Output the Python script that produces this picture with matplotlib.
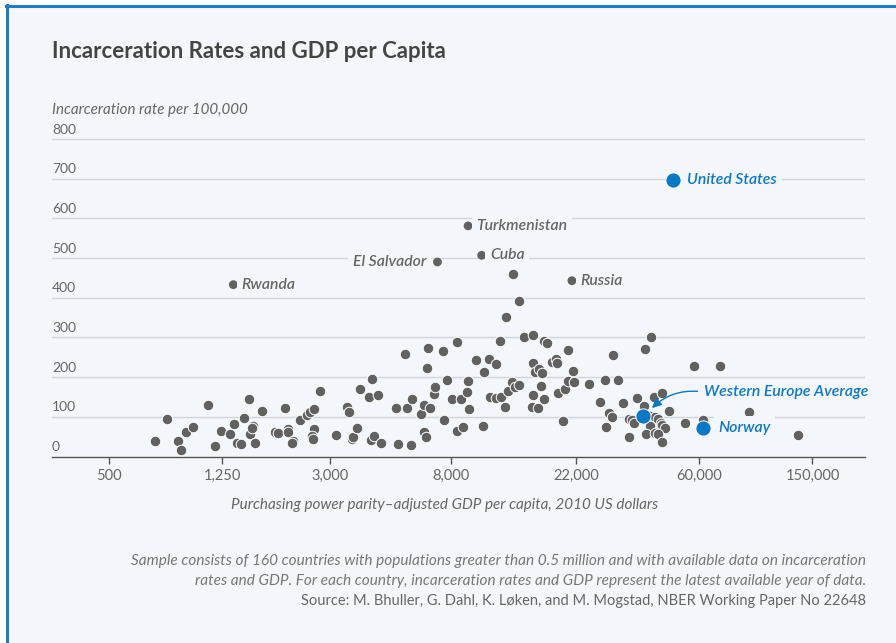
import matplotlib
matplotlib.use('Agg')
import matplotlib.pyplot as plt
from matplotlib.lines import Line2D
from matplotlib.patches import Rectangle

plt.rcParams['font.family'] = ['Lato', 'DejaVu Sans']

# GDP per capita (PPP, 2010 US$) and incarceration rate per 100,000
gdp = [725, 800, 875, 900, 930, 990, 1120, 1180, 1240, 1335, 1375, 1410, 1460, 1500,
       1550, 1570, 1610, 1590, 1640, 1730, 1920, 1970, 2080, 2130, 2130, 2220, 2200,
       2355, 2480, 2550, 2630, 2760, 2630, 2600, 2610, 3150, 3440, 3490, 3580, 3620,
       3740, 3830, 4130, 4220, 4430, 4180, 4290, 4530, 5110, 5220, 5520, 5600, 5770,
       5840, 6270, 6430, 6560, 6430, 6620, 6600, 6770, 6950, 7030, 7500, 7750, 7560,
       8060, 8390, 8390,
       13900, 12550, 11910, 14500, 15600, 16950, 17400, 20600, 9800, 10900, 11500,
       10430, 9190, 8650, 9130, 9290, 8840, 10400, 11000, 11550, 12020, 12420, 12660,
       13170, 13440, 13930, 15550, 15830, 16340, 16700, 15500, 16650, 16950, 15400,
       16200, 18100, 18700, 18960, 19050, 20200, 20700, 21500, 21650, 19900, 24450,
       27800, 29800, 31000, 26850, 28700, 29600, 28200, 32400, 36100, 38500, 40500,
       38400, 33900, 34800, 35300, 33900, 41400, 44100, 46900, 40200, 41800, 43000,
       44000, 44400, 45500, 40200, 39000, 42000, 43000, 44300, 53200, 57300, 71000,
       61600, 89500, 133500, 13250]
rate = [39, 94, 40, 16, 61, 74, 129, 27, 64, 56, 83, 35, 31, 98,
        145, 57, 77, 73, 34, 115, 62, 59, 121, 70, 62, 39, 33,
        92, 105, 113, 119, 166, 69, 52, 44, 53, 125, 113, 44, 50,
        71, 171, 150, 195, 154, 42, 52, 33, 121, 31, 259, 121, 28,
        145, 106, 62, 50, 130, 273, 222, 121, 157, 174, 266, 194, 92,
        145, 288, 65,
        391, 351, 292, 300, 306, 291, 286, 268, 242, 245, 234,
        213, 189, 145, 163, 120, 74, 77, 151, 148, 149, 124, 164,
        188, 175, 181, 236, 213, 221, 211, 155, 178, 144, 125,
        121, 239, 246, 235, 159, 170, 191, 215, 187, 89, 183,
        194, 256, 194, 138, 109, 100, 74, 135, 147, 271, 300,
        128, 94, 92, 85, 50, 151, 161, 114, 102, 100, 94,
        85, 79, 71, 78, 57, 60, 56, 36, 84, 229, 227,
        92, 112, 54, 459]

label_names = ['Rwanda', 'El Salvador', 'Turkmenistan', 'Cuba', 'Russia']
label_gdp = [1370, 7170, 9190, 10260, 21330]
label_rate = [433, 490, 581, 507, 443]

blue_names = ['United States', 'Western Europe Average', 'Norway']
blue_gdp = [48500, 38000, 61800]
blue_rate = [696, 103, 72]

x_ticks = [500, 1250, 3000, 8000, 22000, 60000, 150000]
y_ticks = [0, 100, 200, 300, 400, 500, 600, 700, 800]

bg = '#f3f7fb'
grey = '#616161'
blue = '#0a78c8'
W, H = 896, 643

fig = plt.figure(figsize=(W / 100, H / 100), dpi=100, facecolor='white')
fig.patches.append(Rectangle((6 / W, 0), 1, 1 - 5 / H, transform=fig.transFigure,
                             facecolor=bg, edgecolor='none', zorder=-10))
fig.lines.append(Line2D([7 / W, 7 / W], [0, 1 - 5 / H], transform=fig.transFigure,
                        color='#1f7cc6', lw=2.2))
fig.lines.append(Line2D([6 / W, 1], [1 - 5.5 / H, 1 - 5.5 / H], transform=fig.transFigure,
                        color='#1f7cc6', lw=2.2))

ax = fig.add_axes([52 / W, 1 - 456.5 / H, (865 - 52) / W, (456.5 - 137) / H])
ax.patch.set_visible(False)
ax.set_xscale('log')
ax.set_xlim(315, 229600)
ax.set_ylim(0, 805)

for s in ['top', 'right', 'left']:
    ax.spines[s].set_visible(False)
ax.spines['bottom'].set_color('#555555')
ax.spines['bottom'].set_linewidth(1)

ax.set_xticks(x_ticks)
ax.set_xticklabels([f'{t:,}' for t in x_ticks])
ax.minorticks_off()
ax.tick_params(axis='x', length=5, width=1, color='#555555', labelcolor='#666666',
               labelsize=10.5, pad=4)
ax.set_yticks([])

# gridlines with labels sitting above them
for v in y_ticks:
    if v > 0:
        ax.axhline(v, color='#d0d4d9', lw=1, zorder=1)
    ax.annotate(str(v), xy=(0, v), xycoords=('axes fraction', 'data'),
                xytext=(0, 2.5), textcoords='offset points', ha='left', va='bottom',
                fontsize=10, color='#666666')

ax.scatter(gdp, rate, s=58, color=grey, edgecolor='white', linewidth=0.7, zorder=3)
ax.scatter(label_gdp, label_rate, s=40, color=grey, edgecolor='none', zorder=3)
ax.scatter(blue_gdp, blue_rate, s=120, color=blue, edgecolor='white', linewidth=0.7, zorder=5)

lbl_kw = dict(textcoords='offset points', va='center', fontsize=11.3, style='italic',
              fontweight='semibold', zorder=4,
              bbox=dict(boxstyle='square,pad=0.3', fc=bg, ec='none'))
for name, x, y in zip(label_names, label_gdp, label_rate):
    if name == 'El Salvador':
        ax.annotate(name, (x, y), xytext=(-8, 0), ha='right', color='#666666', **lbl_kw)
    else:
        ax.annotate(name, (x, y), xytext=(6, 0), ha='left', color='#666666', **lbl_kw)

ax.annotate(blue_names[0], (blue_gdp[0], blue_rate[0]), xytext=(10, 0), ha='left',
            color=blue, **lbl_kw)
ax.annotate(blue_names[2], (blue_gdp[2], blue_rate[2]), xytext=(11, 0), ha='left',
            color=blue, **lbl_kw)
ax.annotate(blue_names[1], xy=(40800, 122), xytext=(62400, 162), textcoords='data',
            ha='left', va='center', fontsize=11.3, style='italic', fontweight='semibold',
            color=blue, zorder=6,
            arrowprops=dict(arrowstyle='-|>,head_length=0.5,head_width=0.25', color=blue,
                            lw=1, relpos=(0, 0.5), shrinkA=3, shrinkB=0,
                            connectionstyle='arc3,rad=0.25'))

fig.text(52 / W, 1 - 52 / H, 'Incarceration Rates and GDP per Capita', fontsize=16,
         fontweight='bold', color='#444444', ha='left', va='center')
fig.text(52 / W, 1 - 110 / H, 'Incarceration rate per 100,000', fontsize=10.9,
         style='italic', color='#666666', ha='left', va='center')
fig.text(445 / W, 1 - 505 / H,
         'Purchasing power parity\u2013adjusted GDP per capita, 2010 US dollars',
         fontsize=11, style='italic', color='#666666', ha='center', va='center')

fig.text(866 / W, 1 - 561 / H,
         'Sample consists of 160 countries with populations greater than 0.5 million and '
         'with available data on incarceration', fontsize=11.1, style='italic',
         color='#777777', ha='right', va='center')
fig.text(866 / W, 1 - 581 / H,
         'rates and GDP. For each country, incarceration rates and GDP represent the latest '
         'available year of data.', fontsize=11.1, style='italic', color='#777777',
         ha='right', va='center')
fig.text(866 / W, 1 - 601 / H,
         'Source: M. Bhuller, G. Dahl, K. L\u00f8ken, and M. Mogstad, NBER Working Paper No 22648',
         fontsize=10.5, color='#666666', ha='right', va='center')

fig.savefig('out.png', dpi=100, facecolor='white')
